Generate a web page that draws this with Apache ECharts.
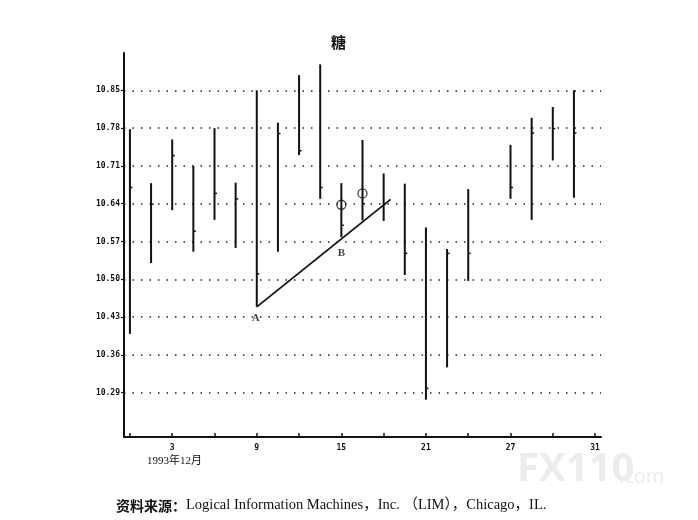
<!DOCTYPE html>
<html>
<head>
<meta charset="utf-8">
<script src="https://cdn.jsdelivr.net/npm/echarts@6/dist/echarts.min.js"></script>
<style>
html,body{margin:0;padding:0;background:#fff;}
#chart{width:698px;height:520px;}
</style>
</head>
<body>
<div id="chart"></div>
<script>
// Trading-day slots, December 1993
const days = ['1','2','3','6','7','8','9','10','13','14','15','16','17','20','21','22','23','24','27','28','29','30','31'];
const highs = [10.778,10.678,10.759,10.710,10.780,10.679,10.850,10.790,10.878,10.898,10.678,10.758,10.696,10.677,10.596,10.556,10.667,null,10.749,10.799,10.819,10.850,null];
const lows  = [10.399,10.530,10.628,10.551,10.610,10.558,10.449,10.551,10.730,10.649,10.578,10.609,10.608,10.508,10.277,10.337,10.497,null,10.649,10.610,10.720,10.651,null];
const closes= [10.670,10.639,10.729,10.589,10.659,10.649,10.510,10.770,10.738,10.670,10.600,10.640,10.640,10.548,10.298,10.548,10.548,null,10.670,10.771,10.779,10.771,null];
const yTicks = [10.29,10.36,10.43,10.50,10.57,10.64,10.71,10.78,10.85];
const xTickIdx = [0,2,4,6,8,10,12,14,16,18,20,22];
const xLabelIdx = [2,6,10,14,18,22];
const trendX = [6, 12.33];
const trendY = [10.449, 10.648];
const circleX = [10, 11];
const circleY = [10.638, 10.659];
const labelText = ['A','B'];
const labelX = [5.95, 10];
const labelY = [10.428, 10.548];

const barData = [];
days.forEach((d,i)=>{ if(highs[i]!=null) barData.push([i,highs[i],lows[i],closes[i]]); });

const chart = echarts.init(document.getElementById('chart'));
const monoLabel = {fontFamily:'DejaVu Sans Mono', fontWeight:'bold', fontSize:8, color:'#111'};

chart.setOption({
  animation:false,
  backgroundColor:'#fff',
  title:{text:'糖', left:326, top:30, textStyle:{fontFamily:'Noto Sans CJK SC', fontWeight:'bold', fontSize:15, color:'#111'}},
  grid:{left:124, top:53, right:97, bottom:83},
  xAxis:{
    type:'value', min:-0.28, max:22.28,
    axisLine:{show:true, onZero:false, lineStyle:{color:'#111', width:2}},
    axisTick:{show:true, inside:true, length:4, customValues:xTickIdx, lineStyle:{color:'#111', width:1.5}},
    axisLabel:{show:true, customValues:xLabelIdx, margin:7, formatter:v=>days[Math.round(v)], ...monoLabel},
    splitLine:{show:false}
  },
  yAxis:{
    type:'value', min:10.208, max:10.919,
    axisLine:{show:true, onZero:false, lineStyle:{color:'#111', width:2}},
    axisTick:{show:true, length:3, customValues:yTicks, lineStyle:{color:'#111', width:1.2}},
    axisLabel:{show:true, customValues:yTicks, margin:4, formatter:v=>v.toFixed(2), ...monoLabel},
    splitLine:{show:false}
  },
  graphic:[
    {type:'text', left:147, top:456, style:{text:'1993年12月', font:'11px "Liberation Serif", "Noto Sans CJK SC"', fill:'#111'}},
    {type:'text', left:517, top:450, z:-1, style:{text:'FX110', font:'bold 40px "Open Sans"', fill:'#ececec'}},
    {type:'text', left:619, top:467, z:-1, style:{text:'.com', font:'20px "Open Sans"', fill:'#ececec'}},
    {type:'text', left:116, top:498, style:{
      text:'{b|资料来源：}{r|Logical Information Machines，Inc. （LIM），Chicago，IL.}',
      rich:{
        b:{fontFamily:'Noto Sans CJK SC', fontWeight:'bold', fontSize:14, fill:'#111'},
        r:{fontFamily:'Liberation Serif, Noto Sans CJK SC', fontSize:14.5, fill:'#111'}
      }
    }}
  ],
  series:[
    {
      type:'line', data:[], silent:true,
      markLine:{silent:true, symbol:'none', label:{show:false},
        lineStyle:{color:'#222', width:1.6, type:[1.5,7]},
        data:yTicks.map(v=>({yAxis:v}))}
    },
    {
      type:'custom', data:barData, z:5,
      renderItem:(params, api)=>{
        const top = api.coord([api.value(0), api.value(1)]);
        const bot = api.coord([api.value(0), api.value(2)]);
        const cl = api.coord([api.value(0), api.value(3)]);
        return {type:'group', children:[
          {type:'line', shape:{x1:top[0], y1:top[1], x2:bot[0], y2:bot[1]}, style:{stroke:'#111', lineWidth:2}},
          {type:'line', shape:{x1:cl[0], y1:cl[1], x2:cl[0]+2.5, y2:cl[1]}, style:{stroke:'#111', lineWidth:1.5}}
        ]};
      }
    },
    {
      type:'line', data:trendX.map((x,i)=>[x,trendY[i]]), symbol:'none', z:6,
      lineStyle:{color:'#111', width:1.8}
    },
    {
      type:'scatter', data:circleX.map((x,i)=>[x,circleY[i]]), symbol:'circle', symbolSize:9, z:7,
      itemStyle:{color:'rgba(255,255,255,0)', borderColor:'#111', borderWidth:1.3}
    },
    {
      type:'scatter', data:labelX.map((x,i)=>[x,labelY[i],labelText[i]]), symbolSize:0, z:8,
      label:{show:true, position:'inside', formatter:p=>p.data[2],
        fontFamily:'Liberation Serif', fontWeight:'bold', fontSize:11, color:'#111'}
    }
  ]
});
</script>
</body>
</html>
